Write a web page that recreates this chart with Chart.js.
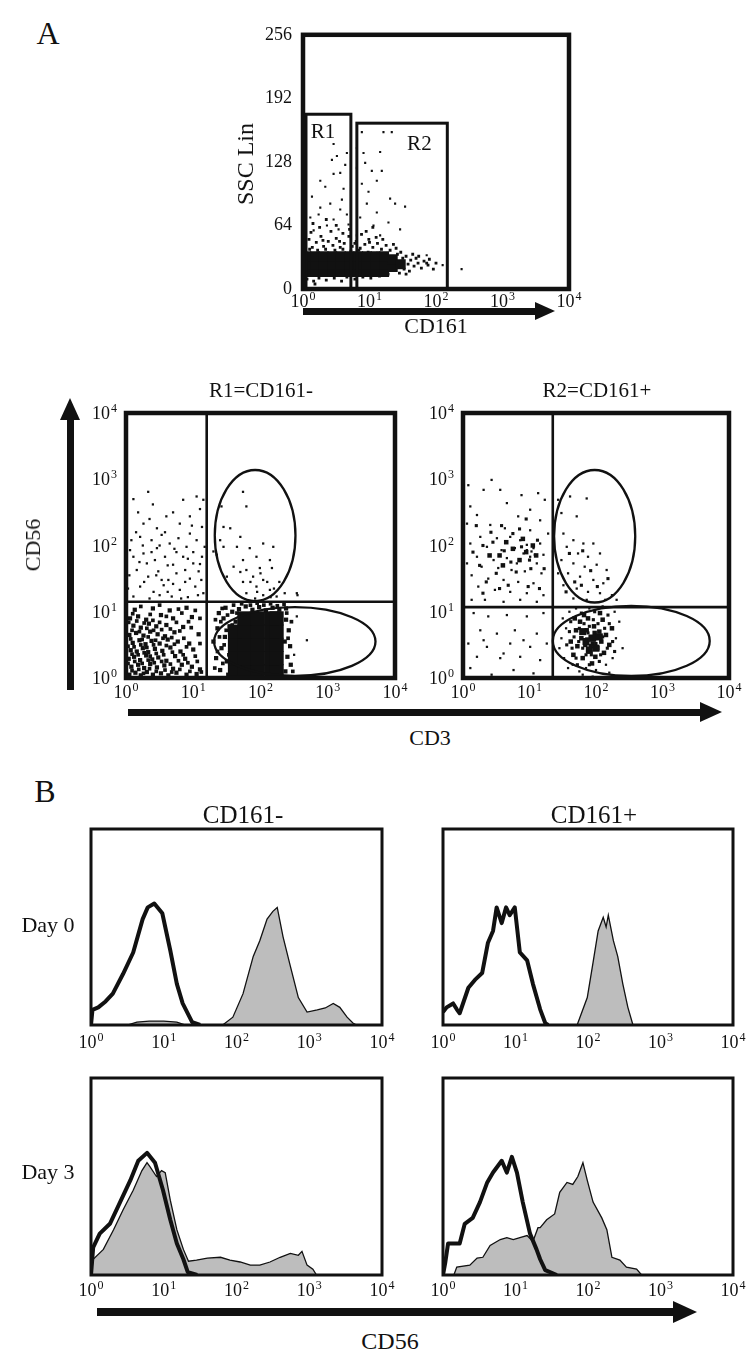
<!DOCTYPE html>
<html>
<head>
<meta charset="utf-8">
<script src="https://cdn.jsdelivr.net/npm/chart.js@4.4.1/dist/chart.umd.min.js"></script>
<style>
  body { margin: 0; background: #fff; }
  #page { position: relative; width: 750px; height: 1360px; overflow: hidden; font-family: "Liberation Serif", "Times New Roman", serif; color: #111; }
  #page canvas { position: absolute; }
  .txt { position: absolute; white-space: nowrap; transform: translate(-50%, -50%); line-height: 1; }
  .rot { transform: translate(-50%, -50%) rotate(-90deg); will-change: transform; }
  .bar { position: absolute; background: #111; }
  .head { position: absolute; width: 0; height: 0; }
</style>
</head>
<body>
<div id="page">
  <canvas id="ssc"></canvas>
  <canvas id="r1"></canvas>
  <canvas id="r2"></canvas>
  <canvas id="h0neg"></canvas>
  <canvas id="h0pos"></canvas>
  <canvas id="h3neg"></canvas>
  <canvas id="h3pos"></canvas>

  <div class="txt" style="left:48px;top:33px;font-size:32px">A</div>
  <div class="txt rot" style="left:245px;top:164px;font-size:24px">SSC Lin</div>
  <div class="txt" style="left:436px;top:326px;font-size:22px">CD161</div>

  <div class="txt" style="left:261px;top:390px;font-size:21px">R1=CD161-</div>
  <div class="txt" style="left:597px;top:390px;font-size:21px">R2=CD161+</div>
  <div class="txt rot" style="left:33px;top:545px;font-size:22px">CD56</div>
  <div class="txt" style="left:430px;top:738px;font-size:22px">CD3</div>

  <div class="txt" style="left:45px;top:791px;font-size:32px">B</div>
  <div class="txt" style="left:243px;top:814px;font-size:25px">CD161-</div>
  <div class="txt" style="left:594px;top:814px;font-size:25px">CD161+</div>
  <div class="txt" style="left:48px;top:925px;font-size:22px">Day 0</div>
  <div class="txt" style="left:48px;top:1172px;font-size:22px">Day 3</div>
  <div class="txt" style="left:390px;top:1341px;font-size:24px">CD56</div>
</div>
<script>
"use strict";

// tick labels: decades 10^0 .. 10^4, and the linear SSC ticks
const decadeExps = [0, 1, 2, 3, 4];
const sscTicks = [0, 64, 128, 192, 256];

// ---- A, top: SSC Lin vs CD161 (x = log10 CD161, y = SSC) ----
const sscCore = [
  [0.05, 17], [0.18, 17], [0.31, 17], [0.44, 17], [0.57, 17], [0.70, 17], [0.83, 17], [0.96, 17], [1.09, 17], [1.22, 17],
  [0.05, 25], [0.18, 25], [0.31, 25], [0.44, 25], [0.57, 25], [0.70, 25], [0.83, 25], [0.96, 25], [1.09, 25], [1.22, 25],
  [0.05, 33], [0.18, 33], [0.31, 33], [0.44, 33], [0.57, 33], [0.70, 33], [0.83, 33], [0.96, 33], [1.09, 33], [1.22, 33],
  [1.35, 22], [1.35, 30], [1.47, 25]
];
const sscEdge = [
  [0.02, 44], [0.09, 50], [0.14, 42], [0.20, 47], [0.27, 53], [0.31, 43], [0.38, 48], [0.45, 44], [0.50, 51], [0.56, 42],
  [0.62, 46], [0.69, 53], [0.74, 43], [0.80, 48], [0.86, 41], [0.93, 45], [0.99, 50], [1.05, 42], [1.12, 46], [1.18, 40],
  [1.25, 44], [1.31, 39], [1.40, 41], [1.47, 37], [0.12, 57], [0.42, 58], [0.60, 56], [0.88, 55], [1.10, 52],
  [0.04, 38], [0.10, 40], [0.22, 39], [0.34, 40], [0.48, 39], [0.60, 40], [0.72, 38], [0.84, 39], [0.98, 37], [1.12, 36],
  [1.26, 35], [0.03, 60], [0.25, 62], [0.50, 64], [0.70, 60], [0.95, 58], [1.20, 50], [1.36, 45], [0.15, 66], [0.35, 70],
  [1.05, 62], [0.55, 48], [0.30, 49], [0.78, 46], [1.00, 47], [1.42, 35], [1.50, 31],
  [0.06, 10], [0.16, 8], [0.24, 11], [0.35, 9], [0.47, 11], [0.58, 8], [0.66, 12], [0.78, 10], [0.90, 12], [1.02, 11],
  [1.15, 13], [1.28, 15], [0.18, 5], [1.45, 16], [1.55, 15],
  [1.52, 20], [1.55, 33], [1.58, 25], [1.62, 29], [1.60, 18], [1.67, 23], [1.70, 31], [1.73, 26], [1.78, 21], [1.82, 28],
  [1.88, 24], [1.96, 20], [1.86, 26], [1.74, 33], [1.65, 35], [1.90, 30], [2.00, 26]
];
const sscDots = [
  [0.46, 146], [0.435, 130], [0.66, 137], [0.635, 125], [0.56, 117], [0.61, 101], [0.46, 116], [0.335, 103], [0.135, 93],
  [0.26, 82], [0.41, 86], [0.585, 90], [0.11, 72], [0.235, 75], [0.46, 70], [0.66, 75], [0.36, 64], [0.535, 60], [0.16, 59],
  [0.685, 65], [0.26, 109], [0.56, 80], [0.51, 134],
  [0.885, 158], [1.21, 158], [1.335, 158], [0.91, 137], [0.81, 142], [0.935, 127], [1.035, 119], [1.185, 119], [1.11, 109],
  [0.985, 98], [1.31, 91], [0.96, 86], [1.385, 86], [1.535, 83], [1.11, 77], [0.86, 72], [1.285, 67], [1.06, 64], [1.46, 60],
  [0.81, 54], [1.16, 54], [0.885, 106], [0.81, 122], [1.16, 138],
  [2.385, 20], [1.86, 34], [2.1, 24]
];
const sscGates = [
  {name: 'R1', x1: 0.045, x2: 0.72, top: 176, lx: 0.30, ly: 158},
  {name: 'R2', x1: 0.81, x2: 2.17, top: 167, lx: 1.75, ly: 146}
];

// ---- A, R1 = CD161- : CD56 vs CD3 (both log10) ----
const r1Core = [
  [1.62, 0.1], [1.76, 0.1], [1.96, 0.1], [2.16, 0.1], [2.24, 0.1],
  [1.62, 0.3], [1.76, 0.3], [1.96, 0.3], [2.16, 0.3], [2.24, 0.3],
  [1.62, 0.5], [1.76, 0.5], [1.96, 0.5], [2.16, 0.5], [2.24, 0.5],
  [1.62, 0.7], [1.76, 0.7], [1.96, 0.7], [2.16, 0.7], [2.24, 0.7],
  [1.76, 0.9], [1.96, 0.9], [2.16, 0.9], [2.24, 0.9]
];
const r1Mid = [
  [0.05, 0.05], [0.14, 0.08], [0.22, 0.04], [0.31, 0.09], [0.40, 0.05], [0.52, 0.07], [0.63, 0.04], [0.75, 0.08], [0.90, 0.05], [1.05, 0.06],
  [0.08, 0.17], [0.18, 0.20], [0.27, 0.15], [0.36, 0.21], [0.46, 0.16], [0.57, 0.19], [0.70, 0.14], [0.83, 0.20], [0.98, 0.17], [1.10, 0.13],
  [0.04, 0.29], [0.12, 0.32], [0.21, 0.27], [0.30, 0.34], [0.39, 0.28], [0.48, 0.31], [0.60, 0.26], [0.73, 0.33], [0.88, 0.29],
  [0.07, 0.42], [0.16, 0.40], [0.25, 0.45], [0.33, 0.39], [0.43, 0.44], [0.54, 0.41], [0.66, 0.46], [0.81, 0.40], [1.00, 0.43],
  [0.10, 0.53], [0.20, 0.57], [0.29, 0.51], [0.38, 0.56], [0.50, 0.52], [0.62, 0.58], [0.77, 0.55], [0.94, 0.52],
  [0.05, 0.65], [0.15, 0.68], [0.26, 0.64], [0.36, 0.70], [0.47, 0.66], [0.58, 0.63], [0.72, 0.69], [1.08, 0.66],
  [0.11, 0.79], [0.22, 0.76], [0.34, 0.82], [0.45, 0.78], [0.60, 0.80], [0.85, 0.77],
  [0.06, 0.90], [0.18, 0.93], [0.30, 0.88], [0.52, 0.95], [0.70, 0.90], [0.98, 0.92],
  [0.13, 1.03], [0.40, 1.05], [0.65, 1.02], [0.90, 1.06],
  [1.30, 0.55], [1.34, 0.30], [1.36, 0.75], [1.40, 0.12], [1.42, 0.45], [1.45, 0.90], [1.47, 0.62], [1.50, 0.25], [1.52, 0.05],
  [1.54, 0.78], [1.56, 0.40], [1.58, 1.00], [1.60, 0.15], [1.62, 0.60], [1.63, 0.85], [1.38, 0.98], [1.48, 1.06], [1.57, 0.30],
  [1.68, 1.04], [1.78, 1.08], [1.88, 1.03], [1.98, 1.07], [2.08, 1.02], [2.18, 1.06], [2.28, 1.03], [2.38, 1.05],
  [2.37, 0.10], [2.40, 0.32], [2.36, 0.55], [2.42, 0.72], [2.38, 0.88], [2.45, 0.20], [2.44, 0.48]
];
const r1Speck = [
  [0.09, 0.11], [0.19, 0.13], [0.26, 0.07], [0.35, 0.14], [0.45, 0.10], [0.58, 0.12], [0.68, 0.09], [0.80, 0.13], [0.95, 0.10], [1.12, 0.09],
  [0.03, 0.22], [0.13, 0.25], [0.24, 0.22], [0.33, 0.27], [0.42, 0.23], [0.53, 0.25], [0.66, 0.21], [0.78, 0.26], [0.92, 0.23], [1.06, 0.25],
  [0.09, 0.36], [0.18, 0.35], [0.27, 0.38], [0.36, 0.33], [0.45, 0.37], [0.56, 0.35], [0.69, 0.39], [0.85, 0.35], [1.03, 0.33],
  [0.03, 0.48], [0.12, 0.47], [0.22, 0.50], [0.31, 0.46], [0.41, 0.50], [0.60, 0.49], [0.72, 0.51], [0.90, 0.47], [1.10, 0.52],
  [0.07, 0.59], [0.24, 0.58], [0.33, 0.62], [0.44, 0.57], [0.55, 0.60], [0.68, 0.61], [0.86, 0.60],
  [0.09, 0.72], [0.20, 0.70], [0.31, 0.75], [0.41, 0.72], [0.53, 0.73], [0.66, 0.74], [0.80, 0.71], [0.97, 0.76],
  [0.04, 0.84], [0.16, 0.86], [0.27, 0.83], [0.40, 0.87], [0.50, 0.84], [0.75, 0.84], [0.93, 0.85], [1.10, 0.90],
  [0.10, 0.97], [0.36, 0.96], [0.60, 0.93], [0.83, 0.98], [0.22, 1.08], [0.50, 1.10], [0.78, 1.04], [1.03, 1.02],
  [1.32, 0.15], [1.36, 0.40], [1.39, 0.62], [1.41, 0.85], [1.44, 0.22], [1.46, 0.50], [1.49, 0.72], [1.51, 0.95], [1.53, 0.35],
  [1.55, 0.58], [1.58, 0.80], [1.60, 0.45], [1.63, 0.25], [1.64, 0.70], [1.65, 0.98], [1.33, 0.88], [1.43, 1.05],
  [1.60, 1.10], [1.72, 1.12], [1.85, 1.10], [1.95, 1.13], [2.05, 1.10], [2.15, 1.12], [2.25, 1.09], [2.35, 1.11],
  [2.41, 0.60], [2.46, 0.85], [2.48, 0.10], [2.39, 0.98]
];
const r1Dots = [
  [0.11, 2.70], [0.33, 2.81], [0.85, 2.69], [1.05, 2.74], [1.15, 2.69], [0.26, 2.33], [0.46, 2.26], [0.80, 2.33], [0.95, 2.44],
  [1.13, 2.28], [0.08, 2.08], [0.21, 2.13], [0.38, 2.08], [0.53, 2.16], [0.65, 2.03], [0.78, 2.11], [0.90, 1.98], [1.05, 2.08],
  [1.17, 1.98], [0.11, 1.83], [0.26, 1.88], [0.43, 1.78], [0.58, 1.83], [0.70, 1.71], [0.85, 1.83], [1.00, 1.73], [1.13, 1.83],
  [0.16, 1.63], [0.33, 1.53], [0.48, 1.61], [0.63, 1.48], [0.75, 1.58], [0.95, 1.50], [1.08, 1.61], [0.21, 1.38], [0.41, 1.30],
  [0.56, 1.40], [0.80, 1.33], [1.03, 1.38], [0.11, 1.23], [0.68, 1.23], [1.15, 1.28], [0.60, 2.44], [0.06, 1.93], [0.75, 1.90],
  [0.46, 1.96], [0.95, 2.18], [0.31, 1.73], [0.88, 1.63], [0.53, 1.48],
  [0.15, 2.20], [0.35, 2.40], [0.70, 2.50], [1.10, 2.55], [0.50, 2.00], [0.72, 1.95], [1.00, 1.90], [0.20, 1.75], [0.38, 1.90],
  [0.62, 1.70], [0.92, 1.80], [1.10, 1.72], [0.05, 1.55], [0.27, 1.45], [0.45, 1.55], [0.70, 1.42], [0.88, 1.45], [1.12, 1.48],
  [0.35, 1.20], [0.50, 1.25], [0.92, 1.22], [0.03, 1.35], [0.62, 1.30], [0.82, 1.20], [1.07, 1.25], [0.40, 2.62], [0.18, 2.50],
  [0.98, 2.30], [0.58, 2.20], [0.25, 2.00],
  [1.74, 2.81], [1.42, 2.59], [1.79, 2.59], [1.45, 2.28], [1.55, 2.26], [1.40, 2.08], [1.45, 1.98], [1.65, 1.98], [1.84, 1.96],
  [1.94, 1.83], [2.04, 2.03], [2.19, 1.98], [1.74, 1.78], [2.14, 1.78], [1.60, 1.68], [1.79, 1.63], [1.99, 1.66], [2.17, 1.66],
  [1.89, 1.53], [2.04, 1.48], [1.74, 1.45], [1.94, 1.38], [2.14, 1.33], [1.79, 1.28], [2.04, 1.25], [2.24, 1.23], [1.50, 1.53],
  [1.35, 1.86], [1.70, 2.13], [2.36, 1.28], [2.54, 1.28], [1.30, 1.91],
  [1.95, 1.30], [2.10, 1.45], [1.85, 1.45], [2.20, 1.35], [2.00, 1.58], [1.70, 1.60], [2.28, 1.45], [1.92, 1.20], [2.15, 1.22],
  [2.69, 0.57], [2.54, 0.93], [2.50, 0.35], [2.55, 1.25]
];
const r1Quad = [1.2, 1.15];
const r1Ellipses = [[1.92, 2.15, 0.60, 0.99], [2.51, 0.55, 1.20, 0.52]];

// ---- A, R2 = CD161+ ----
const r2Core = [[1.85, 0.55], [1.95, 0.60], [2.00, 0.45], [1.80, 0.70], [1.90, 0.42], [2.05, 0.62]];
const r2Mid = [
  [1.62, 0.55], [1.66, 0.35], [1.70, 0.72], [1.72, 0.48], [1.76, 0.85], [1.78, 0.60], [1.80, 0.30], [1.84, 0.50], [1.86, 0.72],
  [1.88, 0.90], [1.90, 0.40], [1.92, 0.62], [1.95, 0.52], [1.97, 0.78], [1.99, 0.32], [2.00, 0.62], [2.02, 0.45], [2.05, 0.70],
  [2.08, 0.55], [2.10, 0.88], [2.12, 0.38], [2.15, 0.65], [2.20, 0.50], [2.24, 0.75], [1.82, 0.95], [1.94, 0.22], [1.68, 0.90],
  [2.06, 0.98], [1.87, 0.58], [1.98, 0.68], [1.92, 0.48],
  [0.55, 1.85], [0.75, 1.95], [0.95, 1.90], [1.05, 2.00], [0.65, 2.05], [0.85, 1.78], [0.40, 1.85], [1.10, 1.85], [0.60, 1.70], [0.90, 2.10]
];
const r2Speck = [
  [1.56, 0.50], [1.60, 0.70], [1.64, 0.45], [1.67, 0.62], [1.70, 0.30], [1.74, 0.55], [1.75, 0.75], [1.80, 0.45], [1.82, 0.82],
  [1.85, 0.35], [1.88, 0.68], [1.90, 0.78], [1.93, 0.35], [1.96, 0.88], [2.00, 0.52], [2.03, 0.82], [2.07, 0.35], [2.10, 0.62],
  [2.13, 0.75], [2.17, 0.45], [2.20, 0.82], [2.25, 0.55], [2.28, 0.40], [1.72, 0.20], [1.90, 0.20], [2.05, 0.25], [1.62, 0.85],
  [1.78, 0.98], [1.98, 1.00], [2.18, 0.95],
  [0.30, 2.00], [0.45, 2.05], [0.62, 1.92], [0.72, 1.75], [0.88, 1.98], [1.00, 1.78], [1.12, 2.08], [0.50, 1.58], [0.80, 1.60],
  [1.02, 1.65], [0.25, 1.70], [0.58, 2.30], [0.85, 2.25], [0.35, 1.45], [0.68, 1.40], [0.98, 1.38], [0.15, 1.90], [1.22, 1.65],
  [0.42, 2.20], [0.75, 2.18], [0.20, 2.30], [0.95, 2.40], [0.55, 1.35], [1.15, 1.35], [0.30, 1.28],
  [1.60, 1.88], [1.80, 1.92], [1.92, 1.62], [1.68, 1.45], [2.02, 1.38], [1.78, 1.40], [1.55, 1.30], [2.18, 1.50]
];
const r2Dots = [
  [0.08, 2.91], [0.31, 2.84], [0.56, 2.84], [0.43, 2.99], [0.88, 2.76], [1.13, 2.79], [1.23, 2.69], [0.11, 2.59], [0.66, 2.64],
  [1.01, 2.54], [0.21, 2.46], [0.83, 2.44], [1.16, 2.38], [0.06, 2.33], [0.41, 2.31], [0.63, 2.26], [1.01, 2.23], [1.28, 2.18],
  [0.26, 2.13], [0.51, 2.11], [0.71, 2.13], [0.86, 2.08], [0.96, 2.01], [1.06, 1.96], [1.16, 2.03], [0.11, 2.03], [0.36, 1.98],
  [0.58, 1.93], [0.78, 1.96], [0.91, 1.88], [1.01, 1.83], [1.21, 1.86], [0.21, 1.83], [0.46, 1.78], [0.66, 1.81], [0.81, 1.73],
  [1.11, 1.73], [0.06, 1.73], [0.28, 1.68], [0.53, 1.66], [0.73, 1.63], [0.93, 1.61], [1.18, 1.58], [0.13, 1.55], [0.38, 1.50],
  [0.61, 1.48], [0.83, 1.45], [1.06, 1.43], [0.23, 1.38], [0.48, 1.33], [0.71, 1.30], [0.96, 1.28], [1.21, 1.25], [0.33, 1.18],
  [0.61, 1.15], [0.86, 1.18], [1.11, 1.15], [0.13, 1.18], [1.03, 1.91], [1.08, 1.86], [0.96, 1.93],
  [1.43, 2.69], [1.61, 2.74], [1.86, 2.71], [1.48, 2.49], [1.71, 2.44], [1.51, 2.18], [1.66, 2.08], [1.81, 2.03], [1.96, 2.03],
  [1.56, 1.98], [1.73, 1.88], [1.88, 1.83], [2.06, 1.88], [1.48, 1.78], [1.66, 1.73], [1.83, 1.68], [2.01, 1.71], [2.16, 1.63],
  [1.58, 1.58], [1.76, 1.53], [1.96, 1.48], [2.11, 1.43], [1.51, 1.40], [1.71, 1.35], [1.88, 1.30], [2.06, 1.28], [2.24, 1.25],
  [1.66, 1.20], [1.86, 1.18], [2.14, 1.18], [2.31, 1.18], [1.43, 1.58],
  [0.16, 0.98], [0.38, 0.93], [0.66, 0.95], [0.96, 0.93], [1.21, 0.98], [0.26, 0.72], [0.51, 0.67], [0.78, 0.72], [1.11, 0.67],
  [0.08, 0.52], [0.36, 0.47], [0.71, 0.52], [1.01, 0.47], [1.26, 0.52], [0.21, 0.32], [0.56, 0.30], [0.86, 0.32], [1.16, 0.27],
  [0.11, 0.15], [0.43, 0.05], [0.76, 0.12], [1.06, 0.07], [0.31, 0.57], [0.61, 0.37], [0.91, 0.57],
  [1.50, 0.90], [1.48, 0.60], [1.52, 0.30], [1.55, 0.75], [1.58, 0.15], [1.60, 1.00], [1.65, 0.20], [1.70, 1.05], [1.75, 0.10],
  [1.85, 0.15], [2.00, 0.12], [2.15, 0.20], [2.25, 0.30], [2.30, 0.60], [2.35, 0.85], [2.28, 1.00], [2.40, 0.45], [1.45, 0.45],
  [1.90, 1.05], [2.10, 1.08], [1.80, 0.05], [1.95, 0.02], [2.20, 0.08]
];
const r2Quad = [1.35, 1.07];
const r2Ellipses = [[1.98, 2.14, 0.61, 1.0], [2.53, 0.56, 1.18, 0.53]];

// ---- B: histograms, x = log10 CD56, y = % of frame height ----
const d0NegCtrlX = [0, 0.02, 0.1, 0.2, 0.3, 0.44, 0.58, 0.71, 0.78, 0.87, 0.98, 1.09, 1.18, 1.26, 1.39, 1.5];
const d0NegCtrlY = [0, 7.7, 9, 12, 16, 26, 37, 54, 60, 62, 57, 38, 21, 11, 1.5, 0];
const d0NegCd56X = [0.5, 0.63, 0.8, 1.0, 1.18, 1.3, 1.81, 1.95, 2.09, 2.23, 2.32, 2.42, 2.5, 2.56, 2.64, 2.74, 2.85, 2.97, 3.11, 3.22, 3.33, 3.42, 3.52, 3.6, 3.65];
const d0NegCd56Y = [0, 1.5, 2, 2, 1.5, 0, 0, 4, 16, 35, 43, 54, 58, 60, 45, 30, 14, 6.6, 7.7, 8.7, 11, 9, 4, 1, 0];

const d0PosCtrlX = [0, 0.05, 0.14, 0.19, 0.23, 0.35, 0.44, 0.54, 0.62, 0.69, 0.74, 0.81, 0.87, 0.92, 0.99, 1.06, 1.16, 1.24, 1.34, 1.41, 1.45];
const d0PosCtrlY = [6.6, 9, 11, 8, 6, 19, 23, 26.5, 42, 48, 60, 52, 60, 56, 60, 37, 33, 21, 8, 1, 0];
const d0PosCd56X = [1.85, 1.99, 2.07, 2.14, 2.21, 2.25, 2.28, 2.35, 2.41, 2.48, 2.55, 2.62];
const d0PosCd56Y = [0, 14, 32, 48, 55, 50, 56, 43, 35, 21, 9, 0];

const d3NegCtrlX = [0, 0.03, 0.12, 0.26, 0.40, 0.54, 0.65, 0.77, 0.88, 0.99, 1.09, 1.18, 1.27, 1.33, 1.46];
const d3NegCtrlY = [0, 14, 21, 26, 37, 48, 58, 62, 57, 43, 28, 16, 8, 1.5, 0];
const d3NegCd56X = [0, 0.03, 0.17, 0.31, 0.44, 0.58, 0.70, 0.77, 0.81, 0.90, 0.97, 1.02, 1.09, 1.18, 1.27, 1.34, 1.45, 1.6, 1.78, 1.91, 2.05, 2.19, 2.32, 2.46, 2.6, 2.74, 2.85, 2.9, 2.97, 3.05, 3.1];
const d3NegCd56Y = [0, 8, 13, 23, 33, 43, 53, 57, 55, 50, 53, 52, 38, 23, 13, 7, 7.6, 8.6, 9, 7.6, 6.6, 5, 5, 6.6, 9, 11, 10, 12, 5, 3, 0];

const d3PosCtrlX = [0, 0.03, 0.07, 0.23, 0.30, 0.41, 0.51, 0.61, 0.69, 0.81, 0.88, 0.95, 1.02, 1.10, 1.20, 1.29, 1.34, 1.41, 1.57];
const d3PosCtrlY = [0, 6, 16, 16, 26, 29, 37, 47, 52, 58, 52, 60, 52, 37, 21, 13, 8, 2.5, 0];
const d3PosCd56X = [0.15, 0.19, 0.37, 0.47, 0.55, 0.65, 0.79, 0.88, 0.97, 1.06, 1.16, 1.24, 1.31, 1.34, 1.43, 1.54, 1.61, 1.71, 1.79, 1.86, 1.93, 1.99, 2.07, 2.19, 2.26, 2.33, 2.44, 2.53, 2.67, 2.74];
const d3PosCd56Y = [0, 4, 5, 8.6, 9, 15, 18, 19, 18, 19, 20, 17, 24, 24, 28, 31, 42, 47, 46, 50, 57, 48, 37, 29, 23, 9, 7.6, 4, 3, 0];

// ---------------- drawing ----------------
const serif = '"Liberation Serif", "Times New Roman", "DejaVu Serif", serif';
const tickFont = {family: serif, size: 18};
const ink = '#111';

function place(id, box, m) {
  const c = document.getElementById(id);
  c.width = box.w + m.l + m.r;
  c.height = box.h + m.t + m.b;
  c.style.left = (box.l - m.l) + 'px';
  c.style.top = (box.t - m.t) + 'px';
  return c;
}

// log axis 1..10^4; decade labels are written by the plugin (10 + raised exponent)
function logAxis(size, horiz) {
  return {
    type: 'logarithmic', min: 1, max: 10000,
    grid: {display: false, drawTicks: false}, border: {display: false},
    ticks: {display: false},
    afterFit: s => { if (horiz) s.height = size; else s.width = size; }
  };
}

function decadeText(ctx, k, px, base, align) {
  ctx.font = '18px ' + serif;
  const w1 = ctx.measureText('10').width;
  ctx.font = '12px ' + serif;
  const w2 = ctx.measureText(String(k)).width;
  const total = w1 + 1 + w2;
  const left = align === 'center' ? px - total / 2 : px - total;
  ctx.textAlign = 'left';
  ctx.textBaseline = 'alphabetic';
  ctx.font = '18px ' + serif;
  ctx.fillText('10', left, base);
  ctx.font = '12px ' + serif;
  ctx.fillText(String(k), left + w1 + 1, base - 7);
}

// frame, quadrant lines, gates, decade labels
const gatePlugin = {
  id: 'gates',
  afterDatasetsDraw(chart, args, o) {
    const {ctx, chartArea: a} = chart;
    const x = chart.scales.x, y = chart.scales.y;
    ctx.save();
    ctx.strokeStyle = ink;
    ctx.fillStyle = ink;
    if (o.quad) {
      ctx.lineWidth = 2.6;
      const qx = x.getPixelForValue(10 ** o.quad[0]);
      const qy = y.getPixelForValue(10 ** o.quad[1]);
      ctx.beginPath();
      ctx.moveTo(qx, a.top); ctx.lineTo(qx, a.bottom);
      ctx.moveTo(a.left, qy); ctx.lineTo(a.right, qy);
      ctx.stroke();
    }
    (o.ellipses || []).forEach(([cx, cy, rx, ry]) => {
      const px = x.getPixelForValue(10 ** cx), py = y.getPixelForValue(10 ** cy);
      ctx.lineWidth = 2.3;
      ctx.beginPath();
      ctx.ellipse(px, py, x.getPixelForValue(10 ** (cx + rx)) - px, py - y.getPixelForValue(10 ** (cy + ry)), 0, 0, 2 * Math.PI);
      ctx.stroke();
    });
    (o.rects || []).forEach(g => {
      const x1 = x.getPixelForValue(10 ** g.x1), x2 = x.getPixelForValue(10 ** g.x2);
      const y1 = y.getPixelForValue(g.top), y0 = y.getPixelForValue(0);
      ctx.lineWidth = 3;
      ctx.strokeRect(x1, y1, x2 - x1, y0 - y1);
      ctx.font = '21px ' + serif;
      ctx.textAlign = 'center';
      ctx.textBaseline = 'middle';
      ctx.fillText(g.name, x.getPixelForValue(10 ** g.lx), y.getPixelForValue(g.ly));
    });
    ctx.lineWidth = o.frame;
    ctx.strokeRect(a.left, a.top, a.right - a.left, a.bottom - a.top);

    decadeExps.forEach(k => {
      decadeText(ctx, k, x.getPixelForValue(10 ** k), a.bottom + o.xBase, 'center');
      if (o.yLog) decadeText(ctx, k, a.left - 9, y.getPixelForValue(10 ** k) + 6, 'right');
    });
    ctx.restore();
  }
};

function dots(list, r, logY) {
  return {
    data: list.map(p => ({x: 10 ** p[0], y: logY ? 10 ** p[1] : p[1]})),
    pointStyle: 'rect', pointRadius: r, pointHoverRadius: r,
    backgroundColor: ink, borderWidth: 0
  };
}

function dotPlot(id, box, datasets, yAxis, gates) {
  const m = {l: 60, t: 14, r: 26, b: 30};
  const c = place(id, box, m);
  return new Chart(c, {
    type: 'scatter',
    data: {datasets},
    options: {
      responsive: false, animation: false, events: [],
      layout: {padding: {left: m.l - 50, right: m.r, top: m.t, bottom: m.b - 28}},
      plugins: {legend: {display: false}, tooltip: {enabled: false}, gates},
      scales: {x: logAxis(28, true), y: yAxis}
    },
    plugins: [gatePlugin]
  });
}

function pts(xs, ys) {
  return xs.map((v, i) => ({x: 10 ** v, y: ys[i]}));
}

function histPlot(id, box, ctrlX, ctrlY, cdX, cdY, xBase) {
  const m = {l: 22, t: 6, r: 26, b: 30};
  const c = place(id, box, m);
  return new Chart(c, {
    type: 'line',
    data: {
      datasets: [
        {data: pts(ctrlX, ctrlY), borderColor: ink, borderWidth: 4, fill: false, pointRadius: 0, tension: 0, borderJoinStyle: 'round'},
        {data: pts(cdX, cdY), borderColor: ink, borderWidth: 1.3, backgroundColor: '#bdbdbd', fill: 'origin', pointRadius: 0, tension: 0}
      ]
    },
    options: {
      responsive: false, animation: false, events: [],
      layout: {padding: {left: m.l, right: m.r, top: m.t, bottom: m.b - 28}},
      plugins: {legend: {display: false}, tooltip: {enabled: false}, gates: {frame: 3, xBase}},
      scales: {x: logAxis(28, true), y: {display: false, min: 0, max: 100}}
    },
    plugins: [gatePlugin]
  });
}

// panel A top
dotPlot('ssc', {l: 303, t: 27, w: 266, h: 262},
  [dots(sscCore, 7, false), dots(sscEdge, 2, false), dots(sscDots, 1.5, false)],
  {
    type: 'linear', min: 0, max: 256,
    grid: {display: false, drawTicks: false}, border: {display: false},
    ticks: {stepSize: 64, padding: 11, font: tickFont, color: ink, callback: v => sscTicks.includes(v) ? String(v) : null},
    afterFit: s => { s.width = 50; }
  },
  {frame: 4.5, rects: sscGates, xBase: 18});

// panel A dot plots
dotPlot('r1', {l: 126, t: 413, w: 269, h: 265},
  [dots(r1Core, 10, true), dots(r1Mid, 3.0, true), dots(r1Speck, 2.6, true), dots(r1Dots, 1.6, true)],
  logAxis(50, false),
  {frame: 4.5, quad: r1Quad, ellipses: r1Ellipses, xBase: 20, yLog: true});

dotPlot('r2', {l: 463, t: 413, w: 266, h: 265},
  [dots(r2Core, 5, true), dots(r2Mid, 3.2, true), dots(r2Speck, 2.2, true), dots(r2Dots, 1.6, true)],
  logAxis(50, false),
  {frame: 4.5, quad: r2Quad, ellipses: r2Ellipses, xBase: 20, yLog: true});

// panel B
histPlot('h0neg', {l: 91, t: 829, w: 291, h: 196}, d0NegCtrlX, d0NegCtrlY, d0NegCd56X, d0NegCd56Y, 23);
histPlot('h0pos', {l: 443, t: 829, w: 290, h: 196}, d0PosCtrlX, d0PosCtrlY, d0PosCd56X, d0PosCd56Y, 23);
histPlot('h3neg', {l: 91, t: 1078, w: 291, h: 197}, d3NegCtrlX, d3NegCtrlY, d3NegCd56X, d3NegCd56Y, 21);
histPlot('h3pos', {l: 443, t: 1078, w: 290, h: 197}, d3PosCtrlX, d3PosCtrlY, d3PosCd56X, d3PosCd56Y, 21);

// axis arrows
const page = document.getElementById('page');
function addBox(cls, css) {
  const d = document.createElement('div');
  d.className = cls;
  Object.assign(d.style, css);
  page.appendChild(d);
}
function hArrow(x1, x2, y, thick, headL, headW) {
  addBox('bar', {left: x1 + 'px', top: (y - thick / 2) + 'px', width: (x2 - headL - x1 + 1) + 'px', height: thick + 'px'});
  addBox('head', {left: (x2 - headL) + 'px', top: (y - headW / 2) + 'px',
    borderLeft: headL + 'px solid ' + ink, borderTop: (headW / 2) + 'px solid transparent', borderBottom: (headW / 2) + 'px solid transparent'});
}
function vArrow(x, y1, y2, thick, headL, headW) {
  addBox('bar', {left: (x - thick / 2) + 'px', top: (y2 + headL - 1) + 'px', width: thick + 'px', height: (y1 - y2 - headL + 1) + 'px'});
  addBox('head', {left: (x - headW / 2) + 'px', top: y2 + 'px',
    borderBottom: headL + 'px solid ' + ink, borderLeft: (headW / 2) + 'px solid transparent', borderRight: (headW / 2) + 'px solid transparent'});
}
hArrow(303, 555, 311, 7, 20, 18);
vArrow(70, 690, 398, 7, 22, 20);
hArrow(128, 722, 712, 7, 22, 20);
hArrow(97, 697, 1312, 8, 24, 22);
</script>
</body>
</html>
